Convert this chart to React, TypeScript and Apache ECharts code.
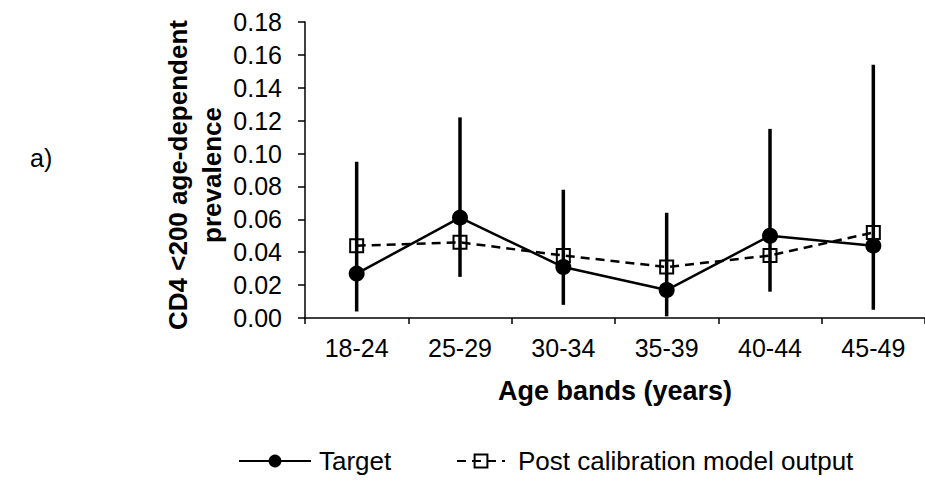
import React, { useEffect, useRef } from "react";
import * as echarts from "echarts";

const categories = ["18-24", "25-29", "30-34", "35-39", "40-44", "45-49"];
const targetValues = [0.027, 0.061, 0.031, 0.017, 0.05, 0.044];
const targetLow = [0.004, 0.025, 0.008, 0.001, 0.016, 0.005];
const targetHigh = [0.095, 0.122, 0.078, 0.064, 0.115, 0.154];
const modelValues = [0.044, 0.046, 0.038, 0.031, 0.038, 0.052];
const yMin = 0;
const yMax = 0.18;
const yStep = 0.02;

const FONT = "'Liberation Sans', Arial, sans-serif";

export default function App() {
  const ref = useRef<HTMLDivElement>(null);
  useEffect(() => {
    if (!ref.current) return;
    const chart = echarts.init(ref.current, null, { renderer: "svg" });
    const errData = categories.map((c, i) => [i, targetLow[i], targetHigh[i]]);
    chart.setOption({
      animation: false,
      backgroundColor: "#fff",
      textStyle: { fontFamily: FONT, color: "#000" },
      grid: { left: 305, top: 22, width: 624, height: 296 },
      xAxis: {
        type: "category",
        data: categories,
        boundaryGap: true,
        axisLine: { lineStyle: { color: "#000", width: 1.5 } },
        axisTick: { show: true, alignWithLabel: false, length: 6, lineStyle: { color: "#000", width: 1.5 } },
        axisLabel: { color: "#000", fontSize: 25, fontFamily: FONT, margin: 17 },
        name: "Age bands (years)",
        nameLocation: "middle",
        nameGap: 59,
        nameTextStyle: { color: "#000", fontSize: 27, fontWeight: "bold", fontFamily: FONT },
      },
      yAxis: {
        type: "value",
        min: yMin,
        max: yMax,
        interval: yStep,
        splitLine: { show: false },
        axisLine: { show: true, lineStyle: { color: "#000", width: 1.5 } },
        axisTick: { show: true, length: 7, lineStyle: { color: "#000", width: 1.5 } },
        axisLabel: {
          color: "#000",
          fontSize: 25,
          fontFamily: FONT,
          margin: 23,
          formatter: (v: number) => v.toFixed(2),
        },
      },
      legend: [
        {
          data: ["Target"],
          left: 238,
          top: 448,
          padding: 0,
          itemWidth: 72,
          itemHeight: 16,
          textStyle: { fontSize: 26, color: "#000", fontFamily: FONT, padding: [0, 0, 0, 3] },
        },
        {
          data: ["Post calibration model output"],
          left: 456,
          top: 448,
          padding: 0,
          itemWidth: 48,
          itemHeight: 16,
          textStyle: { fontSize: 26, color: "#000", fontFamily: FONT, padding: [0, 0, 0, 8] },
        },
      ],
      graphic: [
        {
          type: "text",
          x: 195,
          y: 175,
          rotation: Math.PI / 2,
          style: {
            text: "CD4 <200 age-dependent\nprevalence",
            fontSize: 26,
            fontWeight: "bold",
            fontFamily: FONT,
            fill: "#000",
            align: "center",
            verticalAlign: "middle",
            lineHeight: 34,
          },
        },
        {
          type: "text",
          x: 30,
          y: 158,
          style: {
            text: "a)",
            fontSize: 25,
            fontFamily: FONT,
            fill: "#000",
            align: "left",
            verticalAlign: "middle",
          },
        },
      ],
      series: [
        {
          type: "custom",
          name: "errors",
          data: errData,
          z: 2,
          renderItem: (params: any, api: any) => {
            const x = api.value(0);
            const lo = api.coord([x, api.value(1)]);
            const hi = api.coord([x, api.value(2)]);
            return {
              type: "line",
              shape: { x1: lo[0], y1: lo[1], x2: hi[0], y2: hi[1] },
              style: { stroke: "#000", lineWidth: 3.5 },
            };
          },
        },
        {
          type: "line",
          name: "Target",
          data: targetValues,
          symbol: "circle",
          symbolSize: 16,
          z: 3,
          lineStyle: { color: "#000", width: 2.5 },
          itemStyle: { color: "#000" },
        },
        {
          type: "line",
          name: "Post calibration model output",
          data: modelValues,
          symbol: "rect",
          symbolSize: 13,
          z: 4,
          lineStyle: { color: "#000", width: 2.5, type: [9, 6] },
          itemStyle: { color: "rgba(255,255,255,0)", borderColor: "#000", borderWidth: 2 },
        },
      ],
    });
    return () => chart.dispose();
  }, []);
  return (
    <div
      ref={ref}
      style={{ position: "absolute", left: 0, top: 0, width: 925, height: 482, background: "#fff" }}
    />
  );
}
